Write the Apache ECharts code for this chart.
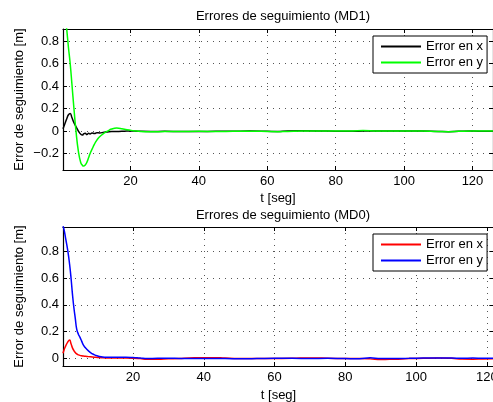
<!DOCTYPE html>
<html>
<head>
<meta charset="utf-8">
<script src="https://cdn.jsdelivr.net/npm/echarts@6/dist/echarts.min.js"></script>
<style>
html,body{margin:0;padding:0;background:#fff;}
#chart{width:493px;height:402px;}
</style>
</head>
<body>
<div id="chart"></div>
<script>
// ---- Data ----
var titleTop = 'Errores de seguimiento (MD1)';
var titleBottom = 'Errores de seguimiento (MD0)';
var xName = 't [seg]';
var yName = 'Error de seguimiento [m]';
var legendNames = ['Error en x', 'Error en y'];

var xTicks = [20, 40, 60, 80, 100, 120];
var yTicksTop = [-0.2, 0, 0.2, 0.4, 0.6, 0.8];
var yTicksBottom = [0, 0.2, 0.4, 0.6, 0.8];

// MD1 (top)
var tTop = [0.3, 0.8, 1.4, 1.9, 2.4, 2.9, 3.5, 4.1, 4.8, 5.5, 6.0, 6.3, 6.8, 7.3, 7.8, 8.2, 8.8, 9.5, 10.2, 11,
            12.3, 13.3, 14.5, 16, 17.5, 19, 21, 23, 26, 30, 35, 40, 45, 50, 55, 60, 63, 66, 70, 75,
            80, 85, 88, 92, 96, 100, 105, 110, 113, 116, 120, 124, 126];
var errXTop = [0.02, 0.06, 0.11, 0.145, 0.157, 0.12, 0.075, 0.04, 0.0, -0.028, -0.035, -0.025, -0.02, -0.03, -0.018, -0.026, -0.016, -0.022, -0.014, -0.016,
               -0.01, -0.007, -0.004, -0.003, -0.002, 0, 0.001, -0.002, -0.003, -0.002, -0.004, -0.003, -0.002, -0.001, 0, -0.002, -0.004, 0.002, 0.003, 0.002,
               -0.001, -0.002, 0, 0.002, 0.001, 0.002, 0.001, -0.003, -0.005, -0.002, 0, -0.001, -0.001];
var errYTop = [1.25, 1.08, 0.9, 0.74, 0.6, 0.42, 0.2, 0.0, -0.18, -0.28, -0.305, -0.31, -0.3, -0.275, -0.235, -0.2, -0.16, -0.115, -0.08, -0.05,
               -0.018, 0.0, 0.018, 0.027, 0.022, 0.012, 0.004, -0.003, -0.005, -0.004, -0.003, -0.002, -0.003, -0.002, -0.001, -0.003, -0.005, -0.003, 0, 0.001,
               0, 0.002, 0.005, 0.001, 0, 0.002, 0.002, -0.004, -0.005, -0.002, 0.001, 0, 0];

// MD0 (bottom)
var tBottom = [0.23, 0.6, 1.0, 1.6, 2.1, 2.5, 2.9, 3.3, 3.7, 4.1, 4.6, 5.0, 5.5, 6.0, 7.0, 8.0, 9.0, 10, 11, 12.5,
               15, 18, 20, 22, 24, 27, 30, 33, 36, 40, 43, 46, 50, 55, 60, 65, 70, 75, 80, 84,
               87, 90, 94, 98, 102, 106, 110, 113, 116, 119, 122];
var errXBottom = [0.04, 0.07, 0.095, 0.125, 0.138, 0.11, 0.08, 0.06, 0.045, 0.035, 0.028, 0.024, 0.021, 0.019, 0.016, 0.013, 0.011, 0.009, 0.007, 0.005,
                  0.004, 0.004, 0.003, 0.0, -0.004, -0.005, -0.002, 0.0, 0.004, 0.007, 0.007, 0.004, 0.001, 0.0, 0.001, 0.002, 0.005, 0.003, 0.0, 0.0,
                  -0.002, -0.007, -0.004, 0.0, 0.002, 0.004, 0.002, -0.003, -0.004, -0.002, -0.001];
var errYBottom = [0.99, 0.95, 0.89, 0.8, 0.7, 0.6, 0.48, 0.38, 0.3, 0.22, 0.18, 0.16, 0.13, 0.1, 0.068, 0.045, 0.03, 0.02, 0.014, 0.01,
                  0.01, 0.01, 0.008, 0.004, 0.0, 0.003, 0.003, 0.001, 0.0, 0.0, 0.0, 0.0, -0.001, 0.0, 0.002, 0.002, 0.001, 0.002, 0.0, -0.001,
                  0.006, 0.0, 0.001, 0.002, 0.004, 0.005, 0.004, 0.002, 0.004, 0.003, 0.003];

// ---- Chart ----
function pairs(t, v) { return t.map(function (x, i) { return [x, v[i]]; }); }

var FONT = '"Liberation Sans", Arial, Helvetica, sans-serif';
var FS = 13;
var gridLine = { show: true, lineStyle: { color: '#555', width: 1, type: [1, 5] } };
var boxLine = { show: true, onZero: false, lineStyle: { color: '#000', width: 1.2 } };
var lbl = { color: '#000', fontSize: FS, fontFamily: FONT };

function xAx(gi, min, max, gap) {
  return [{
    type: 'value', gridIndex: gi, min: min, max: max, position: 'bottom',
    name: xName, nameLocation: 'middle', nameGap: gap,
    nameTextStyle: lbl,
    axisLine: boxLine,
    axisTick: { show: true, inside: true, length: 4, customValues: xTicks, lineStyle: { color: '#000' } },
    axisLabel: Object.assign({ margin: 5, customValues: xTicks }, lbl),
    splitLine: gridLine
  }, {
    type: 'value', gridIndex: gi, min: min, max: max, position: 'top',
    axisLine: boxLine,
    axisTick: { show: true, inside: true, length: 4, customValues: xTicks, lineStyle: { color: '#000' } },
    axisLabel: { show: false },
    splitLine: { show: false }
  }];
}
function yAx(gi, min, max, ticks) {
  return [{
    type: 'value', gridIndex: gi, min: min, max: max, position: 'left',
    name: yName, nameLocation: 'middle', nameGap: 37, nameMoveOverlap: false,
    nameTextStyle: lbl,
    axisLine: boxLine,
    axisTick: { show: true, inside: true, length: 4, customValues: ticks, lineStyle: { color: '#000' } },
    axisLabel: Object.assign({ margin: 4, customValues: ticks,
      formatter: function (v) { return (Math.abs(v) < 1e-9 ? '0' : v.toFixed(1)).replace('-', '\u2212'); } }, lbl),
    splitLine: gridLine
  }, {
    type: 'value', gridIndex: gi, min: min, max: max, position: 'right',
    axisLine: boxLine,
    axisTick: { show: true, inside: true, length: 4, customValues: ticks, lineStyle: { color: '#000' } },
    axisLabel: { show: false },
    splitLine: { show: false }
  }];
}
function ser(name, xi, yi, data, color) {
  return {
    name: name, type: 'line', xAxisIndex: xi, yAxisIndex: yi, data: data,
    symbol: 'none', smooth: true, clip: true, animation: false,
    color: color, itemStyle: { color: color },
    lineStyle: { color: color, width: 1.5 }
  };
}
function legend(top, names) {
  return {
    orient: 'vertical', left: 373, top: top, data: names,
    icon: 'rect', itemWidth: 40, itemHeight: 2, itemGap: 3,
    padding: [4, 4, 4, 8],
    borderColor: '#000', borderWidth: 1, backgroundColor: '#fff',
    textStyle: { color: '#000', fontSize: FS, fontFamily: FONT },
    formatter: function (n) { return n.indexOf('x') >= 0 ? legendNames[0] : legendNames[1]; }
  };
}

var chart = echarts.init(document.getElementById('chart'), null, { renderer: 'canvas' });
chart.setOption({
  animation: false,
  backgroundColor: '#fff',
  title: [
    { text: titleTop, left: 278, top: 5, textAlign: 'center', textStyle: { color: '#000', fontSize: FS, fontWeight: 'normal', fontFamily: FONT } },
    { text: titleBottom, left: 278, top: 204, textAlign: 'center', textStyle: { color: '#000', fontSize: FS, fontWeight: 'normal', fontFamily: FONT } }
  ],
  grid: [
    { left: 63, top: 29, width: 430, height: 141, containLabel: false, outerBoundsMode: 'none' },
    { left: 63, top: 227, width: 431, height: 139, containLabel: false, outerBoundsMode: 'none' }
  ],
  xAxis: xAx(0, 0.3, 126.0, 22).concat(xAx(1, 0.23, 122.0, 23)),
  yAxis: yAx(0, -0.345, 0.906, yTicksTop).concat(yAx(1, -0.055, 0.979, yTicksBottom)),
  legend: [legend(36, ['x1', 'y1']), legend(234, ['x0', 'y0'])],
  series: [
    ser('x1', 0, 0, pairs(tTop, errXTop), '#000000'),
    ser('y1', 0, 0, pairs(tTop, errYTop), '#00ff00'),
    ser('x0', 2, 2, pairs(tBottom, errXBottom), '#ff0000'),
    ser('y0', 2, 2, pairs(tBottom, errYBottom), '#0000ff')
  ]
});
</script>
</body>
</html>
